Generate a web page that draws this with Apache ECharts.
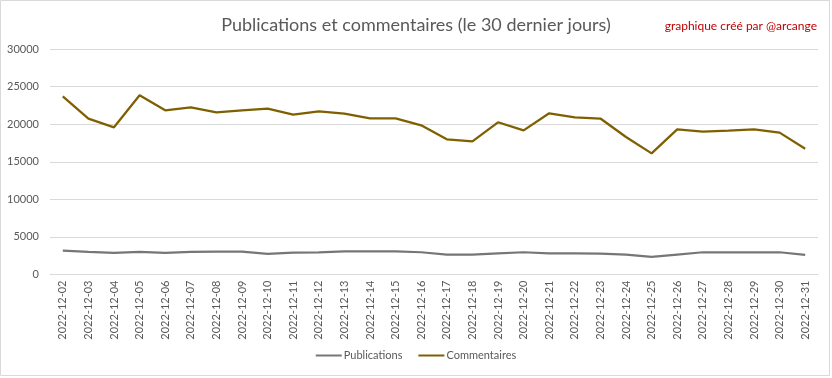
<!DOCTYPE html>
<html><head><meta charset="utf-8">
<script src="https://cdn.jsdelivr.net/npm/echarts@6/dist/echarts.min.js"></script>
<style>html,body{margin:0;padding:0;background:#fff}#c{width:832px;height:378px}</style>
</head><body><div id="c"></div>
<script>
const categories = ['2022-12-02','2022-12-03','2022-12-04','2022-12-05','2022-12-06','2022-12-07','2022-12-08','2022-12-09','2022-12-10','2022-12-11','2022-12-12','2022-12-13','2022-12-14','2022-12-15','2022-12-16','2022-12-17','2022-12-18','2022-12-19','2022-12-20','2022-12-21','2022-12-22','2022-12-23','2022-12-24','2022-12-25','2022-12-26','2022-12-27','2022-12-28','2022-12-29','2022-12-30','2022-12-31'];
const publications = [3180,3000,2870,3000,2870,3000,3050,3050,2730,2900,2950,3090,3090,3090,2960,2640,2640,2820,2960,2800,2800,2780,2650,2330,2650,2960,2960,2960,2960,2600];
const commentaires = [23710,20730,19580,23840,21840,22240,21580,21840,22070,21270,21710,21400,20780,20780,19850,17980,17710,20250,19180,21450,20890,20750,18290,16110,19310,19000,19130,19310,18870,16730];
const yTicks = {min:0, max:30000, interval:5000};
const font = 'Lato, "Open Sans", sans-serif';
const chart = echarts.init(document.getElementById('c'));
chart.setOption({
  animation:false,
  backgroundColor:'#fff',
  graphic:[{type:'rect',shape:{x:0.5,y:0.5,width:829,height:375},style:{fill:'none',stroke:'#d9d9d9',lineWidth:1},silent:true}],
  title:[{text:'Publications et commentaires (le 30 dernier jours)',left:'center',top:11,textStyle:{fontFamily:font,fontSize:18,fontWeight:'normal',color:'#595959'}},
         {text:'graphique créé par @arcange',right:10,top:15,textStyle:{fontFamily:font,fontSize:12,fontWeight:'normal',color:'#c00000'}}],
  legend:{bottom:12,left:'center',itemWidth:26,itemHeight:2,itemGap:16,icon:'rect',textStyle:{fontFamily:font,fontSize:11,color:'#595959',padding:[0,0,0,-3]},data:['Publications','Commentaires']},
  grid:{left:50,right:14,top:49,bottom:103.5,containLabel:false},
  xAxis:{type:'category',data:categories,boundaryGap:true,axisLine:{lineStyle:{color:'#d9d9d9'}},axisTick:{show:false},
    axisLabel:{rotate:90,fontFamily:font,fontSize:11,color:'#595959',margin:6,interval:0}},
  yAxis:{type:'value',min:yTicks.min,max:yTicks.max,interval:yTicks.interval,axisLine:{show:false},axisTick:{show:false},
    axisLabel:{fontFamily:font,fontSize:11,color:'#595959',margin:11,formatter:v=>String(v)},splitLine:{lineStyle:{color:'#d9d9d9'}}},
  series:[
    {name:'Publications',type:'line',data:publications,symbol:'none',lineStyle:{color:'#767676',width:2.25},itemStyle:{color:'#767676'}},
    {name:'Commentaires',type:'line',data:commentaires,symbol:'none',lineStyle:{color:'#7f6000',width:2.25},itemStyle:{color:'#7f6000'}}
  ]
});
</script></body></html>
